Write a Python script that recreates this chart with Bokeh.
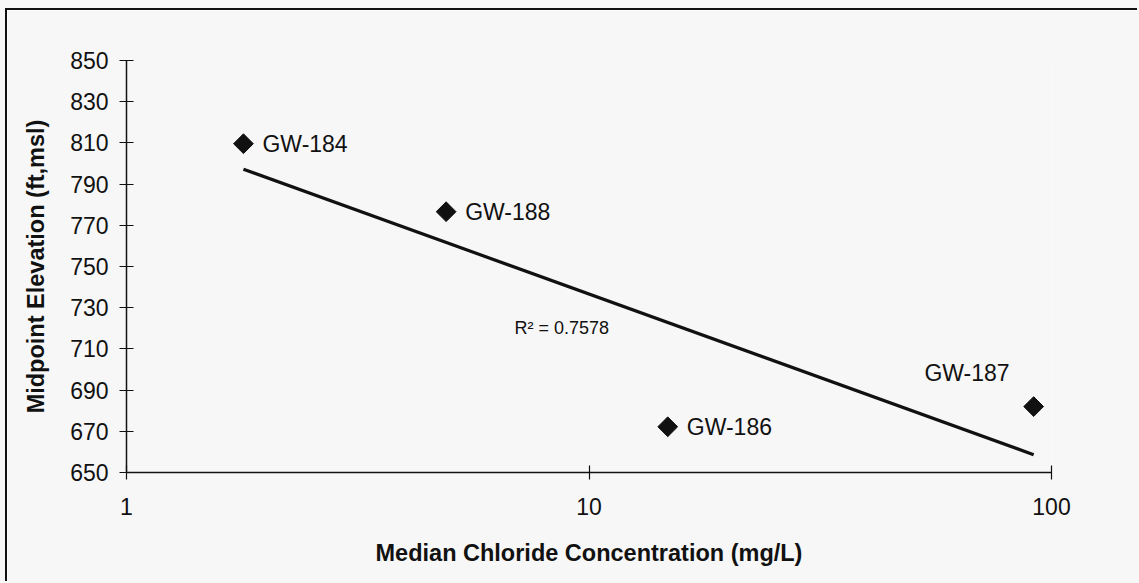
import numpy as np
from bokeh.plotting import figure
from bokeh.models import Range1d, FixedTicker, PrintfTickFormatter
from bokeh.core.properties import value
from bokeh.embed import file_html
from bokeh.resources import INLINE

# ---- data ----
wells = ["GW-184", "GW-188", "GW-186", "GW-187"]
chloride = [1.79, 4.91, 14.8, 91.5]          # mg/L
elevation = [809.6, 776.6, 672.2, 682.0]     # ft, msl
x_ticks = [1, 10, 100]
y_ticks = [650, 670, 690, 710, 730, 750, 770, 790, 810, 830, 850]
r2_text = "R\u00b2 = 0.7578"
x_title = "Median Chloride Concentration (mg/L)"
y_title = "Midpoint Elevation (ft,msl)"

FONT = "Liberation Sans"
INK = "#111111"
BG = "#f7f7f7"

p = figure(width=1132, height=573, x_axis_type="log",
           x_range=Range1d(1, 100), y_range=Range1d(650, 850),
           output_backend="svg", toolbar_location=None,
           min_border_left=119, min_border_right=88,
           min_border_top=50, min_border_bottom=111)
p.background_fill_color = BG
p.border_fill_color = BG
p.outline_line_color = None
p.grid.visible = False
# outer chart border on the left and top edges, grey page around it
p.styles = {"margin-left": "7px", "margin-top": "10px",
            "box-shadow": "-2px -2px 0 0 #111111, 0 0 0 60px #f7f7f7"}

# axes
for ax in (p.xaxis[0], p.yaxis[0]):
    ax.axis_line_color = INK
    ax.axis_line_width = 1.5
    ax.major_tick_line_color = INK
    ax.major_tick_line_width = 1.2
    ax.major_tick_in = 7
    ax.major_tick_out = 7
    ax.minor_tick_line_color = None
    ax.major_label_text_font = FONT
    ax.major_label_text_font_size = "23px"
    ax.major_label_text_color = INK
    ax.axis_label_text_font = FONT
    ax.axis_label_text_font_size = "23.5px"
    ax.axis_label_text_font_style = "bold"
    ax.axis_label_text_color = INK

p.xaxis.ticker = FixedTicker(ticks=x_ticks, minor_ticks=[])
p.xaxis.formatter = PrintfTickFormatter(format="%d")
p.yaxis.ticker = FixedTicker(ticks=y_ticks, minor_ticks=[])
p.xaxis.axis_label = x_title
p.yaxis.axis_label = y_title
p.xaxis.major_label_standoff = 18
p.yaxis.major_label_standoff = 11
p.xaxis.axis_label_standoff = 22
p.yaxis.axis_label_standoff = 18

# logarithmic trend line fitted to the points
lx = np.log10(chloride)
slope, intercept = np.polyfit(lx, elevation, 1)
tx = np.array([min(chloride), max(chloride)])
ty = slope * np.log10(tx) + intercept
p.line(tx, ty, line_color=INK, line_width=3.2)

# markers
p.scatter(chloride, elevation, marker="square", size=14, angle=np.pi / 4,
          fill_color=INK, line_color=INK)

# point labels
for w, cx, ey in zip(wells, chloride, elevation):
    if w == "GW-187":
        p.text([cx], [ey], text=[w], text_align="right", text_baseline="middle",
               x_offset=-24, y_offset=-34, text_font=value(FONT),
               text_font_size="23px", text_color=INK)
    else:
        p.text([cx], [ey], text=[w], text_align="left", text_baseline="middle",
               x_offset=19, y_offset=0, text_font=value(FONT),
               text_font_size="23px", text_color=INK)

# R^2 annotation
p.text([6.9], [720], text=[r2_text], text_align="left", text_baseline="middle",
       text_font=value(FONT), text_font_size="18px", text_color=INK)

open("out.html", "w").write(file_html(p, INLINE))
